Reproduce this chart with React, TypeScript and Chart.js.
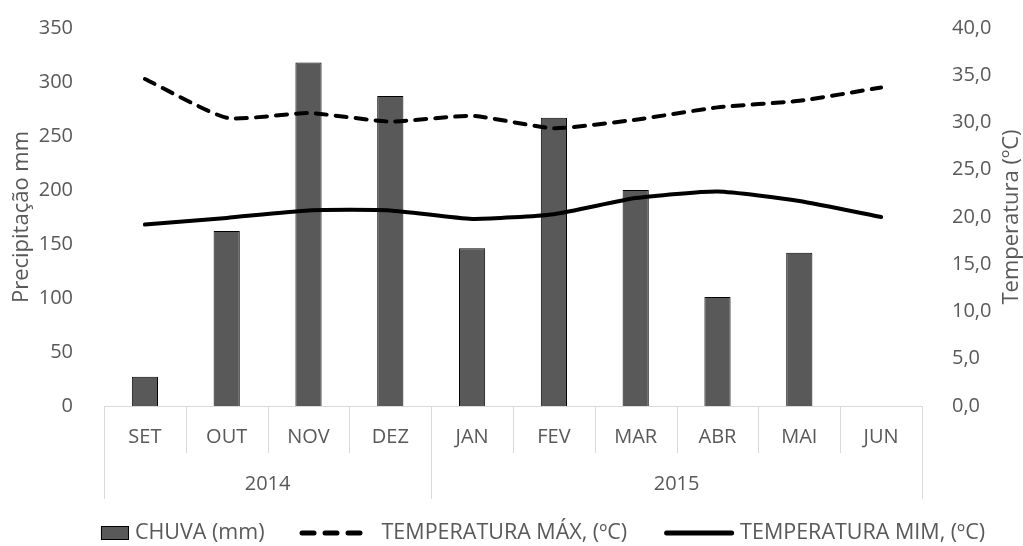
import React, { useEffect, useRef } from "react";
import { Chart, registerables } from "chart.js";

Chart.register(...registerables);

const MONTHS = ["SET", "OUT", "NOV", "DEZ", "JAN", "FEV", "MAR", "ABR", "MAI", "JUN"];
const YEARS = ["2014", "2015"];
const YEAR_SPANS = [4, 6];
const CHUVA = [27, 162, 318, 287, 146, 267, 200, 101, 142, null];
const TEMP_MAX = [34.6, 30.5, 31.0, 30.1, 30.7, 29.4, 30.3, 31.6, 32.3, 33.7];
const TEMP_MIN = [19.2, 19.9, 20.7, 20.7, 19.8, 20.3, 22.0, 22.7, 21.7, 20.0];
const LEFT_TICKS = { min: 0, max: 350, step: 50 };
const RIGHT_TICKS = { min: 0, max: 40, step: 5 };
const LABEL_CHUVA = "CHUVA (mm)";
const LABEL_MAX = "TEMPERATURA MÁX, (ºC)";
const LABEL_MIN = "TEMPERATURA MIM, (ºC)";
const TITLE_LEFT = "Precipitação mm";
const TITLE_RIGHT = "Temperatura (ºC)";

const TEXT = "#595959";
const AXIS = "#d9d9d9";
const FONT = "'Open Sans', 'DejaVu Sans', sans-serif";

const axisPlugin = {
  id: "multiLevelAxis",
  beforeDatasetsDraw(chart: any) {
    const { ctx, chartArea } = chart;
    const { left, right, bottom } = chartArea;
    const n = MONTHS.length;
    const w = (right - left) / n;
    ctx.save();
    ctx.strokeStyle = AXIS;
    ctx.lineWidth = 1;
    ctx.beginPath();
    ctx.moveTo(left, Math.round(bottom) + 0.5);
    ctx.lineTo(right, Math.round(bottom) + 0.5);
    ctx.stroke();
    const groupEdges = new Set<number>();
    let acc = 0;
    groupEdges.add(0);
    YEAR_SPANS.forEach((s) => {
      acc += s;
      groupEdges.add(acc);
    });
    for (let i = 0; i <= n; i++) {
      const bx = Math.round(left + i * w) + 0.5;
      const len = groupEdges.has(i) ? 93 : 47;
      ctx.beginPath();
      ctx.moveTo(bx, bottom);
      ctx.lineTo(bx, bottom + len);
      ctx.stroke();
    }
    ctx.restore();
  },
  afterDraw(chart: any) {
    const { ctx, chartArea } = chart;
    const { left, right, top, bottom } = chartArea;
    const xs = chart.scales.x;
    const n = MONTHS.length;
    const w = (right - left) / n;
    ctx.save();
    ctx.fillStyle = TEXT;
    ctx.textAlign = "center";
    ctx.textBaseline = "middle";
    ctx.font = `20px ${FONT}`;
    MONTHS.forEach((m, i) => {
      ctx.fillText(m, xs.getPixelForValue(i), bottom + 31);
    });
    let start = 0;
    YEARS.forEach((y, gi) => {
      const x0 = left + start * w;
      const x1 = left + (start + YEAR_SPANS[gi]) * w;
      ctx.fillText(y, (x0 + x1) / 2, bottom + 78);
      start += YEAR_SPANS[gi];
    });

    // axis titles
    const midY = (top + bottom) / 2;
    ctx.font = `22px ${FONT}`;
    ctx.save();
    ctx.translate(22, midY);
    ctx.rotate(-Math.PI / 2);
    ctx.fillText(TITLE_LEFT, 0, 0);
    ctx.restore();
    ctx.save();
    ctx.translate(1012, midY);
    ctx.rotate(-Math.PI / 2);
    ctx.fillText(TITLE_RIGHT, 0, 0);
    ctx.restore();

    // legend
    ctx.font = `21.5px ${FONT}`;
    const ly = 533;
    const t1 = ctx.measureText(LABEL_CHUVA).width;
    const t2 = ctx.measureText(LABEL_MAX).width;
    const t3 = ctx.measureText(LABEL_MIN).width;
    const total = 28 + 6 + t1 + 35 + 62 + 20 + t2 + 37 + 70 + 6 + t3;
    let x = 543 - total / 2;
    ctx.textAlign = "left";
    ctx.fillStyle = "#595959";
    ctx.fillRect(x, ly - 7, 28, 14);
    ctx.strokeStyle = "#000";
    ctx.lineWidth = 1;
    ctx.strokeRect(x + 0.5, ly - 6.5, 27, 13);
    x += 28 + 6;
    ctx.fillStyle = TEXT;
    ctx.fillText(LABEL_CHUVA, x, ly);
    x += t1 + 35;
    ctx.strokeStyle = "#000";
    ctx.lineWidth = 5;
    ctx.lineCap = "round";
    ctx.setLineDash([12, 11]);
    ctx.beginPath();
    ctx.moveTo(x + 2.5, ly);
    ctx.lineTo(x + 62, ly);
    ctx.stroke();
    ctx.setLineDash([]);
    x += 62 + 20;
    ctx.fillText(LABEL_MAX, x, ly);
    x += t2 + 37;
    ctx.beginPath();
    ctx.moveTo(x + 2.5, ly);
    ctx.lineTo(x + 67.5, ly);
    ctx.stroke();
    x += 70 + 6;
    ctx.fillText(LABEL_MIN, x, ly);
    ctx.restore();
  },
};

export default function App() {
  const ref = useRef<HTMLCanvasElement | null>(null);
  useEffect(() => {
    if (!ref.current) return;
    const chart = new Chart(ref.current, {
      type: "bar",
      data: {
        labels: MONTHS,
        datasets: [
          {
            type: "line",
            label: LABEL_MAX,
            data: TEMP_MAX,
            yAxisID: "y1",
            borderColor: "#000",
            borderWidth: 4,
            borderDash: [11, 9],
            borderCapStyle: "round",
            pointRadius: 0,
            tension: 0.18,
            fill: false,
            order: 1,
          },
          {
            type: "line",
            label: LABEL_MIN,
            data: TEMP_MIN,
            yAxisID: "y1",
            borderColor: "#000",
            borderWidth: 4,
            borderCapStyle: "round",
            pointRadius: 0,
            tension: 0.18,
            fill: false,
            order: 2,
          },
          {
            type: "bar",
            label: LABEL_CHUVA,
            data: CHUVA as any,
            yAxisID: "y",
            backgroundColor: "#595959",
            borderColor: "#000",
            borderWidth: 1,
            categoryPercentage: 1,
            barPercentage: 0.32,
            order: 3,
          },
        ],
      },
      options: {
        responsive: false,
        animation: false,
        layout: { padding: { top: 28, left: 0, right: 0, bottom: 0 } },
        plugins: { legend: { display: false }, tooltip: { enabled: false } },
        scales: {
          x: {
            type: "category",
            offset: true,
            grid: { display: false },
            border: { display: false },
            ticks: { display: false },
            afterFit: (s: any) => {
              s.height = 140;
              s.paddingLeft = 0;
              s.paddingRight = 0;
            },
          },
          y: {
            position: "left",
            min: LEFT_TICKS.min,
            max: LEFT_TICKS.max,
            grid: { display: false },
            border: { display: false },
            ticks: {
              stepSize: LEFT_TICKS.step,
              color: TEXT,
              padding: 23,
              font: { family: FONT, size: 20 },
            },
            afterFit: (s: any) => {
              s.width = 104;
              s.paddingTop = 0;
              s.paddingBottom = 0;
            },
          },
          y1: {
            position: "right",
            min: RIGHT_TICKS.min,
            max: RIGHT_TICKS.max,
            grid: { display: false },
            border: { display: false },
            ticks: {
              stepSize: RIGHT_TICKS.step,
              color: TEXT,
              padding: 22,
              font: { family: FONT, size: 20 },
              callback: (v: any) => Number(v).toFixed(1).replace(".", ","),
            },
            afterFit: (s: any) => {
              s.width = 101;
              s.paddingTop = 0;
              s.paddingBottom = 0;
            },
          },
        },
      },
      plugins: [axisPlugin],
    });
    return () => chart.destroy();
  }, []);
  return (
    <div style={{ position: "absolute", left: 0, top: 0, width: 1023, height: 546, background: "#fff" }}>
      <canvas ref={ref} width={1023} height={546} style={{ display: "block" }} />
    </div>
  );
}
